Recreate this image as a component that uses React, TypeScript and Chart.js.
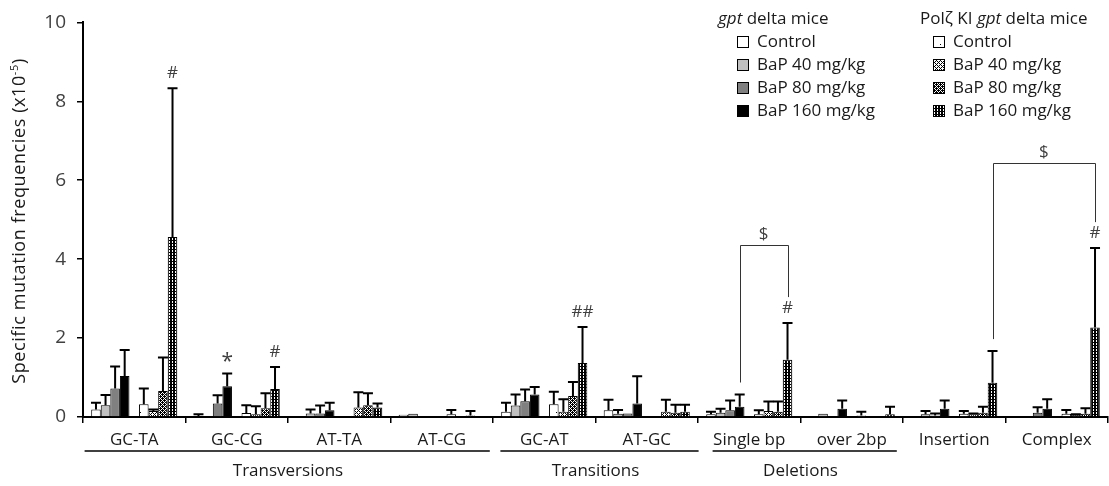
import { useEffect, useRef } from 'react';
import { Chart, registerables } from 'chart.js';

Chart.register(...registerables);

// ---------- data ----------
const categories = ['GC-TA', 'GC-CG', 'AT-TA', 'AT-CG', 'GC-AT', 'AT-GC', 'Single bp', 'over 2bp', 'Insertion', 'Complex'];
const groupLabels = ['Transversions', 'Transitions', 'Deletions'];
const groupFrom = [0, 4, 6];
const groupTo = [3, 5, 7];
const doseLabels = ['Control', 'BaP 40 mg/kg', 'BaP 80 mg/kg', 'BaP 160 mg/kg'];
const yTicks = [0, 2, 4, 6, 8, 10];

// specific mutation frequencies (x10^-5); null = no mutation found
const gptControl = [0.19, 0.02, null, 0.06, 0.13, 0.17, 0.07, null, null, null];
const gpt40 = [0.30, null, 0.09, 0.08, 0.29, 0.08, 0.11, 0.08, 0.07, null];
const gpt80 = [0.72, 0.34, 0.09, null, 0.40, 0.09, 0.17, null, 0.04, 0.11];
const gpt160 = [1.04, 0.78, 0.17, null, 0.57, 0.34, 0.26, 0.21, 0.21, 0.21];
const kiControl = [0.32, 0.10, null, 0.07, 0.32, null, 0.07, 0.04, 0.08, 0.08];
const ki40 = [0.15, 0.07, 0.24, null, 0.13, 0.13, 0.15, null, 0.07, 0.05];
const ki80 = [0.66, 0.22, 0.30, 0.04, 0.53, 0.11, 0.13, null, 0.11, 0.08];
const ki160 = [4.56, 0.71, 0.24, null, 1.37, 0.13, 1.45, 0.07, 0.87, 2.27];

// standard deviations
const gptControlSD = [0.17, 0.05, null, 0, 0.23, 0.27, 0.06, null, null, null];
const gpt40SD = [0.26, null, 0.10, 0, 0.28, 0.10, 0.10, 0, 0.08, null];
const gpt80SD = [0.56, 0.21, 0.20, null, 0.30, 0, 0.25, null, 0.05, 0.14];
const gpt160SD = [0.66, 0.32, 0.19, null, 0.19, 0.69, 0.31, 0.21, 0.21, 0.24];
const kiControlSD = [0.40, 0.20, null, 0.11, 0.32, null, 0.10, 0.09, 0.07, 0.10];
const ki40SD = [0.04, 0.20, 0.39, null, 0.32, 0.31, 0.24, null, 0.02, 0.02];
const ki80SD = [0.85, 0.38, 0.30, 0.11, 0.36, 0.20, 0.26, null, 0.15, 0.14];
const ki160SD = [3.77, 0.56, 0.10, null, 0.91, 0.18, 0.93, 0.19, 0.80, 2.01];

// significance marks: [category index, dataset index, text]
const marks: [number, number, string][] = [
  [0, 8, '#'],
  [1, 3, '*'],
  [1, 8, '#'],
  [4, 8, '##'],
  [6, 8, '#'],
  [9, 8, '#'],
];
// brackets: [fromCat, fromDataset, toCat, toDataset, bracket level (y value)]
const brackets: [number, number, number, number, number][] = [
  [6, 3, 6, 8, 4.36],
  [8, 8, 9, 8, 6.43],
];

// ---------- style ----------
const FAMILY = '"Open Sans", sans-serif';
const groupInsets: [number, number][] = [[1.6, -3.2], [7.4, 0.6], [14.6, -6.2]];

export default function App() {
  const ref = useRef<HTMLCanvasElement>(null);

  useEffect(() => {
    const canvas = ref.current!;
    const ctx0 = canvas.getContext('2d')!;

    const mkPattern = (rows: string[]) => {
      const c = document.createElement('canvas');
      c.width = rows[0].length;
      c.height = rows.length;
      const g = c.getContext('2d')!;
      g.fillStyle = '#ffffff';
      g.fillRect(0, 0, c.width, c.height);
      g.fillStyle = '#000000';
      rows.forEach((r, yy) => {
        for (let xx = 0; xx < r.length; xx++) if (r[xx] === 'X') g.fillRect(xx, yy, 1, 1);
      });
      return ctx0.createPattern(c, 'repeat')!;
    };

    const pKiCtrl = mkPattern([
      '........',
      '........',
      '........',
      '........',
      '....X...',
      '........',
      '........',
      '........',
    ]);
    const pKi40 = mkPattern(['X...', '.X.X', '..X.', '.X.X']);
    const pKi80 = mkPattern(['XX.X', 'X.X.', '.XXX', 'X.X.']);
    const pKi160 = mkPattern(['XXX', 'X.X', 'X.X']);

    const fills: (string | CanvasPattern)[] = ['#ffffff', '#c0c0c0', '#808080', '#000000'];
    const kiFills: (string | CanvasPattern)[] = [pKiCtrl, pKi40, pKi80, pKi160];

    const seriesVals = [gptControl, gpt40, gpt80, gpt160, null, kiControl, ki40, ki80, ki160];
    const seriesSD = [gptControlSD, gpt40SD, gpt80SD, gpt160SD, null, kiControlSD, ki40SD, ki80SD, ki160SD];
    const allFills = [...fills, '#ffffff', ...kiFills];

    const datasets: any[] = seriesVals.map((vals, i) => ({
      label: i === 4 ? '' : (i < 4 ? 'gpt ' : 'KI ') + doseLabels[i < 4 ? i : i - 5],
      data: vals ? vals : categories.map(() => null),
      errors: seriesSD[i],
      backgroundColor: allFills[i],
      borderColor: '#000000',
      borderWidth: 1,
      barPercentage: 1,
      categoryPercentage: 0.84,
    }));

    const overlay = {
      id: 'overlay',
      afterDatasetsDraw(chart: any) {
        const ctx = chart.ctx as CanvasRenderingContext2D;
        const ys = chart.scales.y;
        ctx.save();
        ctx.strokeStyle = '#000';
        ctx.lineWidth = 2;
        chart.data.datasets.forEach((ds: any, i: number) => {
          if (!ds.errors) return;
          const meta = chart.getDatasetMeta(i);
          meta.data.forEach((bar: any, j: number) => {
            const v = ds.data[j];
            const e = ds.errors[j];
            if (v == null || !e) return;
            const top = ys.getPixelForValue(v + e);
            ctx.beginPath();
            ctx.moveTo(bar.x, bar.y);
            ctx.lineTo(bar.x, top);
            ctx.moveTo(bar.x - 5, top);
            ctx.lineTo(bar.x + 5, top);
            ctx.stroke();
          });
        });
        ctx.restore();
      },
      afterDraw(chart: any) {
        const ctx = chart.ctx as CanvasRenderingContext2D;
        const xs = chart.scales.x;
        const ys = chart.scales.y;
        const area = chart.chartArea;
        const cw = (area.right - area.left) / categories.length;
        ctx.save();

        // category labels
        ctx.fillStyle = '#1a1a1a';
        ctx.font = `17px ${FAMILY}`;
        ctx.textAlign = 'center';
        ctx.textBaseline = 'middle';
        categories.forEach((c, i) => ctx.fillText(c, xs.getPixelForValue(i), 440));

        // group lines + labels
        ctx.strokeStyle = '#000';
        ctx.lineWidth = 1.5;
        groupLabels.forEach((g, k) => {
          const x0 = xs.getPixelForValue(groupFrom[k]) - cw / 2 + groupInsets[k][0];
          const x1 = xs.getPixelForValue(groupTo[k]) + cw / 2 + groupInsets[k][1];
          ctx.beginPath();
          ctx.moveTo(x0, 451);
          ctx.lineTo(x1, 451);
          ctx.stroke();
          const cx = (xs.getPixelForValue(groupFrom[k]) + xs.getPixelForValue(groupTo[k])) / 2;
          ctx.fillText(g, cx, 471);
        });

        // helpers
        const barX = (cat: number, ds: number) => chart.getDatasetMeta(ds).data[cat].x;
        const capY = (cat: number, ds: number) => {
          const d = chart.data.datasets[ds];
          return ys.getPixelForValue((d.data[cat] || 0) + (d.errors?.[cat] || 0));
        };
        const hasMark = (cat: number, ds: number) => marks.some((m) => m[0] === cat && m[1] === ds);

        // marks
        ctx.fillStyle = '#404040';
        marks.forEach(([cat, ds, t]) => {
          ctx.font = t === '*' ? `21px ${FAMILY}` : `17px ${FAMILY}`;
          ctx.fillText(t, barX(cat, ds), capY(cat, ds) - (t === '*' ? 12 : 15));
        });

        // brackets
        ctx.strokeStyle = '#333';
        ctx.lineWidth = 1;
        ctx.font = `17px ${FAMILY}`;
        brackets.forEach(([c0, d0, c1, d1, lvl]) => {
          const xa = barX(c0, d0);
          const xb = barX(c1, d1);
          const yTop = ys.getPixelForValue(lvl);
          const ya = capY(c0, d0) - (hasMark(c0, d0) ? 26 : 12);
          const yb = capY(c1, d1) - (hasMark(c1, d1) ? 26 : 12);
          ctx.beginPath();
          ctx.moveTo(Math.round(xa) + 0.5, ya);
          ctx.lineTo(Math.round(xa) + 0.5, Math.round(yTop) + 0.5);
          ctx.lineTo(Math.round(xb) + 0.5, Math.round(yTop) + 0.5);
          ctx.lineTo(Math.round(xb) + 0.5, yb);
          ctx.stroke();
          ctx.fillText('$', (xa + xb) / 2, yTop - 11);
        });

        // y-axis title
        ctx.fillStyle = '#1a1a1a';
        ctx.save();
        ctx.translate(20, 221);
        ctx.rotate(-Math.PI / 2);
        (ctx as any).letterSpacing = '0.6px';
        const mainT = 'Specific mutation frequencies (x10';
        const supT = '-5';
        const endT = ')';
        ctx.font = `18px ${FAMILY}`;
        const w1 = ctx.measureText(mainT).width;
        const w3 = ctx.measureText(endT).width;
        ctx.font = `11px ${FAMILY}`;
        const w2 = ctx.measureText(supT).width;
        let sx = -(w1 + w2 + w3) / 2;
        ctx.textAlign = 'left';
        ctx.font = `18px ${FAMILY}`;
        ctx.fillText(mainT, sx, 0);
        sx += w1;
        ctx.font = `11px ${FAMILY}`;
        ctx.fillText(supT, sx, -5);
        sx += w2;
        ctx.font = `18px ${FAMILY}`;
        ctx.fillText(endT, sx, 0);
        (ctx as any).letterSpacing = '0px';
        ctx.restore();

        // legends
        const runs = (x: number, y: number, parts: [string, boolean][]) => {
          let cx = x;
          parts.forEach(([t, it]) => {
            ctx.font = `${it ? 'italic ' : ''}17px ${FAMILY}`;
            ctx.fillText(t, cx, y);
            cx += ctx.measureText(t).width;
          });
        };
        ctx.textAlign = 'left';
        ctx.fillStyle = '#1a1a1a';
        const rowsY = [42, 65, 88, 111];
        runs(718, 19, [['gpt', true], [' delta mice', false]]);
        runs(920, 19, [['Polζ KI ', false], ['gpt', true], [' delta mice', false]]);
        const box = (x: number, y: number, f: string | CanvasPattern) => {
          ctx.fillStyle = f as any;
          ctx.fillRect(x, y - 6, 12, 12);
          ctx.strokeStyle = '#000';
          ctx.lineWidth = 1;
          ctx.strokeRect(x + 0.5, y - 5.5, 11, 11);
        };
        doseLabels.forEach((l, i) => {
          box(737, rowsY[i], fills[i]);
          box(933, rowsY[i], kiFills[i]);
          ctx.fillStyle = '#1a1a1a';
          ctx.font = `17px ${FAMILY}`;
          ctx.fillText(l, 757, rowsY[i]);
          ctx.fillText(l, 953, rowsY[i]);
        });

        ctx.restore();
      },
    };

    const chart = new Chart(canvas, {
      type: 'bar',
      data: { labels: categories, datasets },
      options: {
        responsive: false,
        animation: false,
        devicePixelRatio: 1,
        layout: { padding: { top: 21, right: 1, left: 0, bottom: 0 } },
        plugins: { legend: { display: false }, tooltip: { enabled: false } },
        scales: {
          x: {
            offset: true,
            grid: { display: true, drawOnChartArea: false, drawTicks: true, tickLength: 6, color: '#000', lineWidth: 1.5, offset: true },
            border: { display: true, color: '#000', width: 2 },
            ticks: { display: false },
            afterFit: (s: any) => { s.height = 69; },
          },
          y: {
            min: 0,
            max: 10,
            afterBuildTicks: (s: any) => { s.ticks = yTicks.map((v) => ({ value: v })); },
            ticks: { font: { family: FAMILY, size: 19 }, color: '#404040', padding: 11 },
            grid: { drawOnChartArea: false, tickLength: 6, color: '#000', lineWidth: 1.5 },
            border: { display: true, color: '#000', width: 2 },
            afterFit: (s: any) => { s.width = 83; },
          },
        },
      },
      plugins: [overlay],
    } as any);

    return () => chart.destroy();
  }, []);

  return (
    <div style={{ position: 'absolute', left: 0, top: 0, width: 1109, height: 486, background: '#fff' }}>
      <canvas ref={ref} width={1109} height={486} style={{ display: 'block' }} />
    </div>
  );
}
